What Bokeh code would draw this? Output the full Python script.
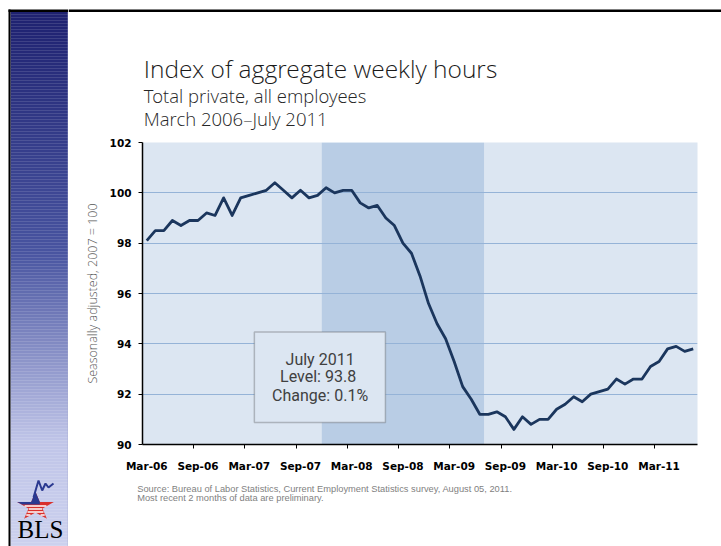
import numpy as np
import pandas as pd
from bokeh.plotting import figure
from bokeh.models import Range1d, FixedTicker, BoxAnnotation, Label
from bokeh.layouts import row, column
from bokeh.embed import file_html
from bokeh.resources import INLINE
from bokeh.core.properties import value

# ---------------- data ----------------
title_text = "Index of aggregate weekly hours"
subtitle_lines = ["Total private, all employees", "March 2006\u2013July 2011"]
y_axis_label = "Seasonally adjusted, 2007 = 100"
source_lines = [
    "Source: Bureau of Labor Statistics, Current Employment Statistics survey, August 05, 2011.",
    "Most recent 2 months of data are preliminary.",
]
months = [d.strftime("%b-%y") for d in pd.date_range("2006-03-01", "2011-07-01", freq="MS")]
index_values = [
    98.1, 98.5, 98.5, 98.9, 98.7, 98.9, 98.9, 99.2, 99.1, 99.8,      # Mar-06 .. Dec-06
    99.1, 99.8, 99.9, 100.0, 100.1, 100.4, 100.1, 99.8, 100.1, 99.8, 99.9, 100.2,  # 2007
    100.0, 100.1, 100.1, 99.6, 99.4, 99.5, 99.0, 98.7, 98.0, 97.6, 96.7, 95.6,     # 2008
    94.8, 94.2, 93.3, 92.3, 91.8, 91.2, 91.2, 91.3, 91.1, 90.6, 91.1, 90.8,        # 2009
    91.0, 91.0, 91.4, 91.6, 91.9, 91.7, 92.0, 92.1, 92.2, 92.6, 92.4, 92.6,        # 2010
    92.6, 93.1, 93.3, 93.8, 93.9, 93.7, 93.8,                                      # 2011
]
tick_labels = ["Mar-06", "Sep-06", "Mar-07", "Sep-07", "Mar-08", "Sep-08",
               "Mar-09", "Sep-09", "Mar-10", "Sep-10", "Mar-11"]
y_ticks = [90, 92, 94, 96, 98, 100, 102]
recession = ("Dec-07", "Jun-09")

# ---------------- styles ----------------
LIGHT_FONT_NAME = "'Open Sans Light', 'Open Sans'"
LIGHT_FONT = value(LIGHT_FONT_NAME)
AXIS_FONT = "DejaVu Sans"
H, LEFT_W, RIGHT_W = 546, 68, 653
TITLE_H, MAIN_H = 134, 341
SRC_H = H - TITLE_H - MAIN_H

def panel(w, h):
    f = figure(width=w, height=h, title=None, x_range=Range1d(0, w), y_range=Range1d(h, 0),
               x_axis_type=None, y_axis_type=None, min_border=0, frame_align=False,
               output_backend="svg", toolbar_location=None)
    f.outline_line_color = None
    f.grid.visible = False
    return f

# ---------------- main chart ----------------
n = len(months)
x = np.arange(n)
p = figure(width=RIGHT_W, height=MAIN_H, title=None, frame_align=False,
           x_range=Range1d(-0.5, n - 0.5), y_range=Range1d(y_ticks[0], y_ticks[-1]),
           output_backend="svg", toolbar_location=None,
           min_border_left=74, min_border_right=24, min_border_top=8, min_border_bottom=31)
p.background_fill_color = "#DCE6F2"
p.border_fill_color = "white"
p.outline_line_color = None

rec = BoxAnnotation(left=months.index(recession[0]) - 0.5, right=months.index(recession[1]) + 0.5,
                    fill_color="#B9CDE5", fill_alpha=1.0, line_color=None, level="image")
p.add_layout(rec)

p.xgrid.visible = False
p.ygrid.ticker = FixedTicker(ticks=y_ticks)
p.ygrid.grid_line_color = "#95B3D7"
p.ygrid.grid_line_width = 1

xax = p.xaxis[0]
xax.ticker = FixedTicker(ticks=[months.index(l) for l in tick_labels],
                         minor_ticks=[k - 0.5 for k in range(6, n, 6)])
xax.major_label_overrides = {months.index(l): l for l in tick_labels}
xax.major_tick_out = 0
xax.major_tick_in = 0
xax.major_tick_line_color = None
xax.minor_tick_out = 4
xax.minor_tick_in = 0
xax.minor_tick_line_color = "black"
xax.axis_line_color = "black"
xax.axis_line_width = 1.5
xax.major_label_standoff = 11
xax.major_label_text_font = AXIS_FONT
xax.major_label_text_font_style = "bold"
xax.major_label_text_font_size = "10.5px"
xax.major_label_text_color = "black"

yax = p.yaxis[0]
yax.ticker = FixedTicker(ticks=y_ticks)
yax.major_tick_out = 4
yax.major_tick_in = 0
yax.major_tick_line_color = "black"
yax.minor_tick_line_color = None
yax.axis_line_color = "black"
yax.axis_line_width = 1.5
yax.major_label_standoff = 7
yax.major_label_text_font = AXIS_FONT
yax.major_label_text_font_style = "bold"
yax.major_label_text_font_size = "10.5px"
yax.major_label_text_color = "black"
yax.axis_label = y_axis_label
yax.axis_label_text_font = LIGHT_FONT_NAME
yax.axis_label_text_font_style = "normal"
yax.axis_label_text_font_size = "12.5px"
yax.axis_label_text_color = "#595959"
yax.axis_label_standoff = 6

p.line(x, index_values, line_color="#1B365D", line_width=2.8, line_join="round")

# annotation box with latest value
last, prev = index_values[-1], index_values[-2]
change = (last - prev) / prev * 100
box = BoxAnnotation(left=12.6, right=27.95, bottom=90.87, top=94.47,
                    fill_color="#DCE6F2", fill_alpha=1.0, line_color="#404040", line_width=1.5)
p.add_layout(box)
ann_lines = [pd.Timestamp("2011-07-01").strftime("%B %Y"), f"Level:  {last:.1f}", f"Change: {change:.1f}%"]
for txt, yy in zip(ann_lines, [93.38, 92.72, 91.95]):
    p.add_layout(Label(x=20.3, y=yy, text=txt, text_align="center", text_baseline="alphabetic",
                       text_font="Roboto", text_font_size="16px", text_color="#404040"))

# ---------------- title panel ----------------
t = panel(RIGHT_W, TITLE_H)
t.quad(left=0, right=RIGHT_W, top=9, bottom=11.5, fill_color="black", line_color=None)
t.text(x=[75.3], y=[67.5], text=[title_text], text_font=LIGHT_FONT, text_font_size="24.5px",
       text_baseline="alphabetic", text_color="#1a1a1a")
t.text(x=[75.3, 75.3], y=[95, 118], text=subtitle_lines, text_font=LIGHT_FONT,
       text_font_size="18.5px", text_baseline="alphabetic", text_color="#262626")

# ---------------- source panel ----------------
s = panel(RIGHT_W, SRC_H)
s.text(x=[68.7, 68.7], y=[13, 22.5], text=source_lines, text_font=value("Liberation Sans"),
       text_font_size="9.3px", text_baseline="alphabetic", text_color="#7F7F7F")

# ---------------- left decorative bar ----------------
l = panel(LEFT_W, H)
stops_y = [11, 250, 440, 546]
stops_c = [(30, 33, 112), (72, 84, 160), (192, 197, 232), (204, 209, 238)]
ys = np.arange(11, H, 3)
cols = []
for yy in ys:
    rgb = [int(round(np.interp(yy, stops_y, [c[i] for c in stops_c]))) for i in range(3)]
    cols.append("#%02x%02x%02x" % tuple(rgb))
l.quad(left=10, right=LEFT_W, top=ys, bottom=ys + 3.2, fill_color=cols, line_color=None)
l.quad(left=LEFT_W - 1, right=LEFT_W, top=11, bottom=H, fill_color="#a7abcf", line_color=None, fill_alpha=0.6)
l.quad(left=8, right=10, top=9, bottom=H, fill_color="black", line_color=None)
l.quad(left=8, right=LEFT_W, top=9, bottom=11.5, fill_color="black", line_color=None)

# BLS logo: star
cx, cy, rx, ry = 35.0, 506.2, 19.3, 15.0
ang = np.deg2rad(-90 + 36 * np.arange(10))
fac = np.where(np.arange(10) % 2 == 0, 1.0, 0.382)
sx = cx + rx * fac * np.cos(ang)
sy = cy + ry * fac * np.sin(ang)
l.patch(sx, sy, fill_color="#D9302C", line_color=None)
for yy in [505.5, 508.5, 511.5, 514.5, 517.5]:
    xs_int = []
    for i in range(10):
        x1, y1, x2, y2 = sx[i], sy[i], sx[(i + 1) % 10], sy[(i + 1) % 10]
        if (y1 - yy) * (y2 - yy) < 0:
            xs_int.append(x1 + (yy - y1) * (x2 - x1) / (y2 - y1))
    xs_int.sort()
    for a, b in zip(xs_int[0::2], xs_int[1::2]):
        l.segment(x0=[a + 0.5], y0=[yy], x1=[b - 0.5], y1=[yy], line_color="white", line_width=1.3)
y_arm = sy[8]
l.patch([sx[8], sx[9], sx[0], sx[1], sx[1], sx[8] + 5],
        [sy[8], sy[9], sy[0], sy[1], y_arm + 2.5, y_arm + 2.5],
        fill_color="#2B3990", line_color=None)
l.line([33, 38, 41.7, 45, 48, 53], [497, 480, 490, 483, 487, 483], line_color="#2B3990", line_width=2)
l.text(x=[40], y=[528.5], text=["BLS"], text_font=value("Liberation Serif"), text_font_size="25px",
       text_align="center", text_baseline="alphabetic", text_color="black")

layout = row(l, column(t, p, s))
open("out.html", "w").write(file_html(layout, INLINE))
